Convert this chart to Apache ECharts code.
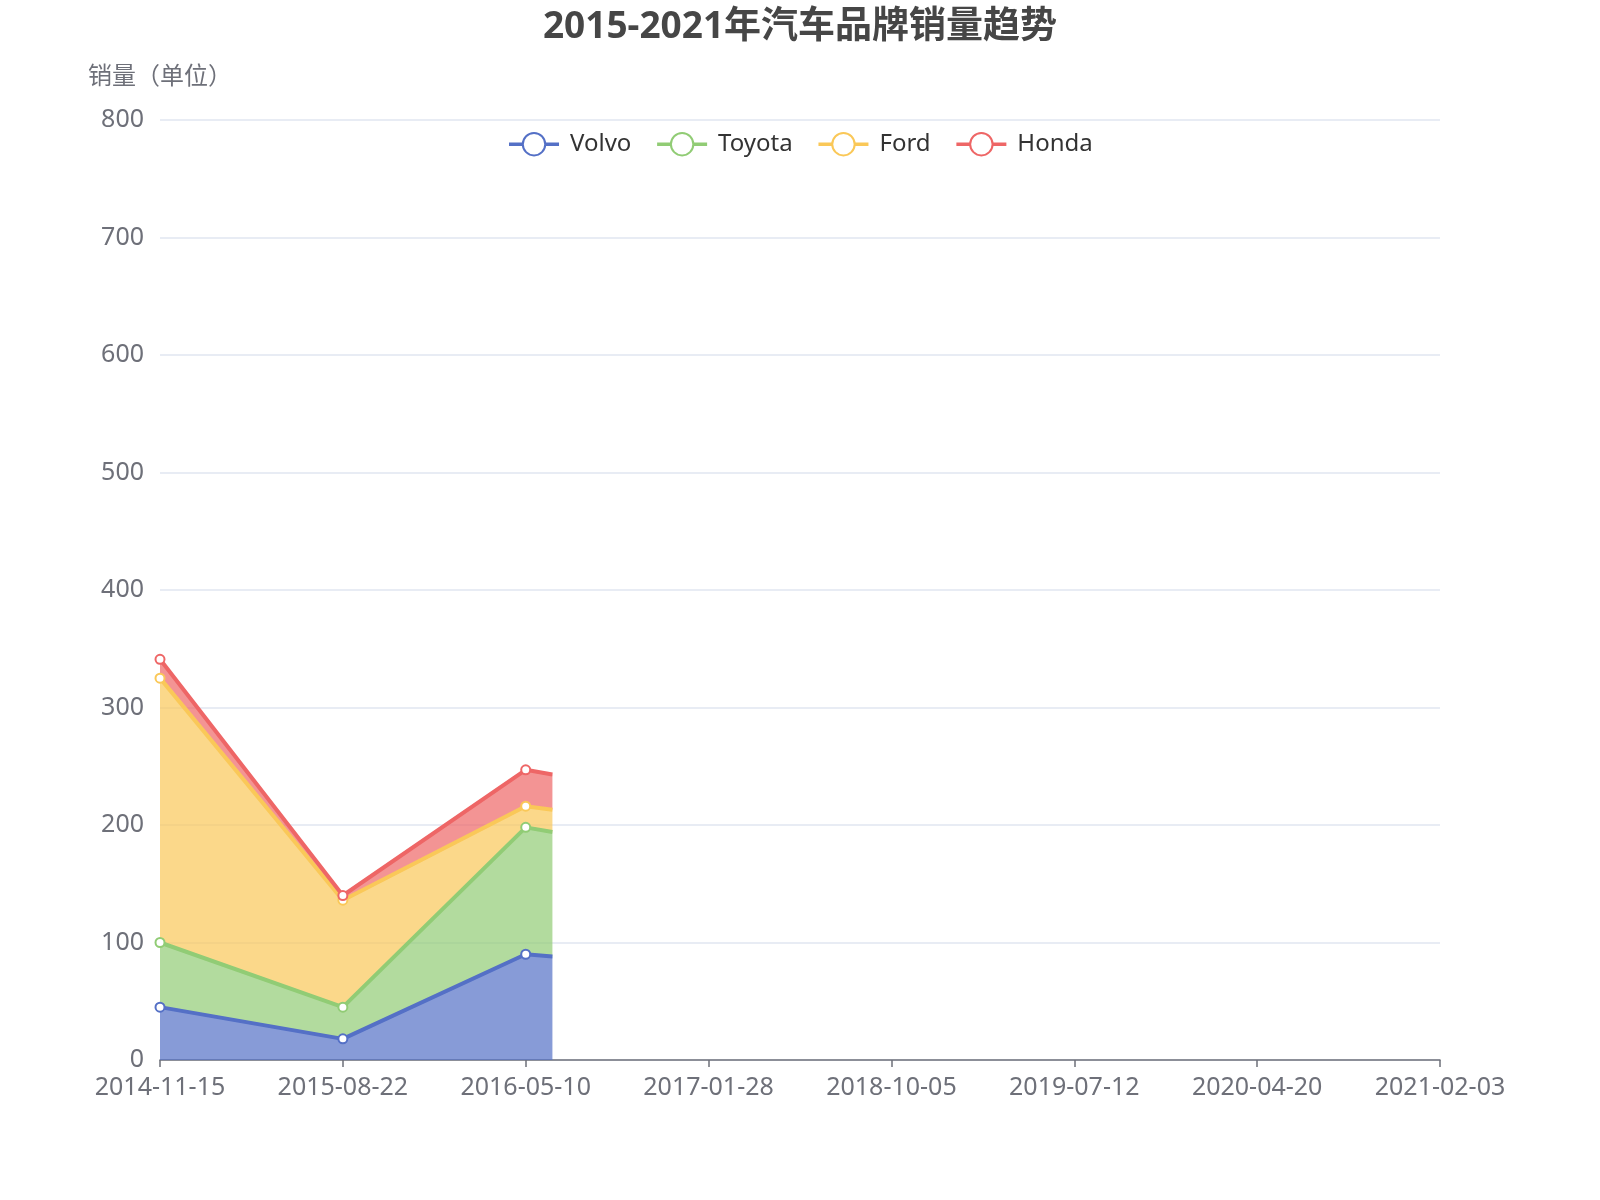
<!DOCTYPE html>
<html>
<head>
<meta charset="utf-8">
<script src="https://cdn.jsdelivr.net/npm/echarts@6/dist/echarts.min.js"></script>
<style>html,body{margin:0;padding:0;background:#fff}#main{width:1600px;height:1200px}</style>
</head>
<body>
<div id="main"></div>
<script>
const categories = ['2014-11-15','2015-08-22','2016-05-10','2017-01-28','2018-10-05','2019-07-12','2020-04-20','2021-02-03'];
// positions along the category axis (last one = where the drawn lines stop in the reference)
const xIndex = [0, 1, 2, 2.146];
const volvo  = [45, 18, 90, 88];
const toyota = [55, 27, 108, 106];
const ford   = [225, 91, 18, 19];
const honda  = [16, 4, 31, 30];
const seriesNames = ['Volvo','Toyota','Ford','Honda'];
const seriesValues = [volvo, toyota, ford, honda];
const colors = ['#5470c6','#91cc75','#fac858','#ee6666'];

const FONT = '"Noto Sans","Noto Sans CJK SC",sans-serif';
const chart = echarts.init(document.getElementById('main'));

function build(vals) {
  return vals.map((v, i) => {
    const item = { value: [v, xIndex[i]] };
    if (i === vals.length - 1) { item.symbol = 'none'; }
    return item;
  });
}

chart.setOption({
  animation: false,
  color: colors,
  textStyle: { fontFamily: FONT },
  title: {
    text: '2015-2021年汽车品牌销量趋势',
    left: 'center', top: 4,
    textStyle: { fontSize: 37, fontWeight: 'bold', color: '#464646', fontFamily: FONT }
  },
  legend: {
    top: 127, left: 'center',
    itemWidth: 50, itemHeight: 28, itemGap: 24,
    lineStyle: { width: 3.5 },
    itemStyle: { borderWidth: 3.5 },
    textStyle: { fontSize: 24, color: '#333', fontFamily: FONT, padding: [0, 0, 0, 6] },
    data: seriesNames
  },
  grid: { left: 160, right: 160, top: 120, bottom: 140 },
  xAxis: [{
    type: 'category', boundaryGap: false, data: categories,
    axisLine: { lineStyle: { color: '#6e7079', width: 1.5 } },
    axisTick: { lineStyle: { color: '#6e7079', width: 1.5 }, length: 7 },
    axisLabel: { fontSize: 25, color: '#6e7079', margin: 15, fontFamily: FONT }
  }, {
    type: 'value', min: 0, max: categories.length - 1, show: false
  }],
  yAxis: {
    type: 'value', min: 0, max: 800, interval: 100,
    name: '销量（单位）',
    nameGap: 31,
    nameTextStyle: { fontSize: 24, color: '#6e7079', fontFamily: FONT, align: 'center' },
    axisLine: { show: false },
    axisTick: { show: false },
    axisLabel: { fontSize: 25, color: '#6e7079', margin: 16, fontFamily: FONT },
    splitLine: { lineStyle: { color: '#e0e6f1', width: 1.5 } }
  },
  series: seriesNames.map((name, k) => ({
    name: name, type: 'line', stack: 'total', xAxisIndex: 1,
    dimensions: ['val', 'pos'],
    encode: { x: 'pos', y: 'val' },
    symbol: 'emptyCircle', symbolSize: 9,
    lineStyle: { width: 4 },
    itemStyle: { borderWidth: 3 },
    areaStyle: { opacity: 0.7 },
    data: build(seriesValues[k])
  }))
});
</script>
</body>
</html>
